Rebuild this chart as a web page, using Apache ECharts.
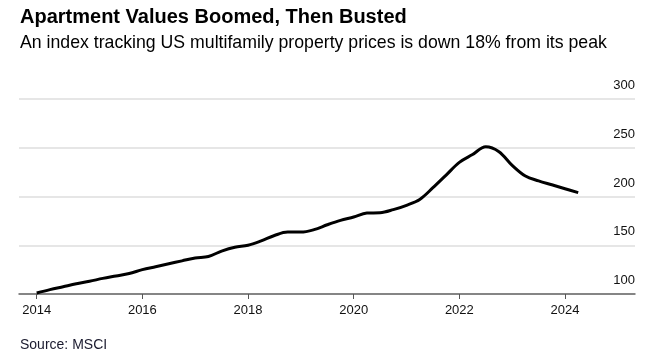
<!DOCTYPE html>
<html><head><meta charset="utf-8">
<script src="https://cdn.jsdelivr.net/npm/echarts@6/dist/echarts.min.js"></script>
<style>html,body{margin:0;padding:0;background:#fff}#c{width:662px;height:361px}</style>
</head><body><div id="c"></div>
<script>
const quarters = [2014.00,2014.25,2014.50,2014.75,2015.00,2015.25,2015.50,2015.75,2016.00,2016.25,2016.50,2016.75,2017.00,2017.25,2017.50,2017.75,2018.00,2018.25,2018.50,2018.75,2019.00,2019.25,2019.50,2019.75,2020.00,2020.25,2020.50,2020.75,2021.00,2021.25,2021.50,2021.75,2022.00,2022.25,2022.50,2022.75,2023.00,2023.25,2023.50,2023.75,2024.00,2024.25];
const indexValues = [101,104.5,107.5,110.5,113,116,118.5,121,125,128,131,134,137,138.5,144,148,150,154.5,160,163.5,163.5,166,171,175.5,179,183,183.3,186.5,191,197,209,222,235,243,251,246,232,221,216,212,208,204];
const xTicks = [2014,2016,2018,2020,2022,2024];
const yTicks = [100,150,200,250,300];
const title = 'Apartment Values Boomed, Then Busted';
const subtitle = 'An index tracking US multifamily property prices is down 18% from its peak';
const source = 'Source: MSCI';

const chart = echarts.init(document.getElementById('c'), null, {renderer:'canvas'});
chart.setOption({
  animation:false,
  backgroundColor:'#fff',
  title:[
    {text:title,left:15,top:2,textStyle:{fontFamily:'Liberation Sans, Arial',fontWeight:'bold',fontSize:20,color:'#000'}},
    {text:subtitle,left:15,top:29,textStyle:{fontFamily:'Liberation Sans, Arial',fontWeight:'normal',fontSize:17.7,color:'#000'}},
    {text:source,left:15,top:333,textStyle:{fontFamily:'Liberation Sans, Arial',fontWeight:'normal',fontSize:14,color:'#1a1a2e'}}
  ],
  grid:{left:19,right:27,top:99,bottom:67,containLabel:false},
  xAxis:{type:'value',min:2013.665,max:2025.325,
    axisLine:{show:true,lineStyle:{color:'#666',width:1.5}},
    axisTick:{show:true,customValues:xTicks,length:5,lineStyle:{color:'#555',width:1}},
    axisLabel:{customValues:xTicks,formatter:v=>String(v),color:'#111',fontFamily:'Liberation Sans, Arial',fontSize:13,margin:10},
    splitLine:{show:false}},
  yAxis:{type:'value',position:'right',min:100,max:300,interval:50,
    axisLine:{show:false},axisTick:{show:false},
    axisLabel:{inside:true,align:'right',verticalAlign:'bottom',margin:0,padding:[0,0,7,0],color:'#111',fontFamily:'Liberation Sans, Arial',fontSize:13,
      formatter:v=>yTicks.includes(v)?String(v):''},
    splitLine:{show:true,lineStyle:{color:'#dedede',width:1.5}}},
  series:[{type:'line',data:quarters.map((q,i)=>[q,indexValues[i]]),smooth:0.35,showSymbol:false,
    lineStyle:{color:'#000',width:3},z:5}]
});
</script></body></html>
